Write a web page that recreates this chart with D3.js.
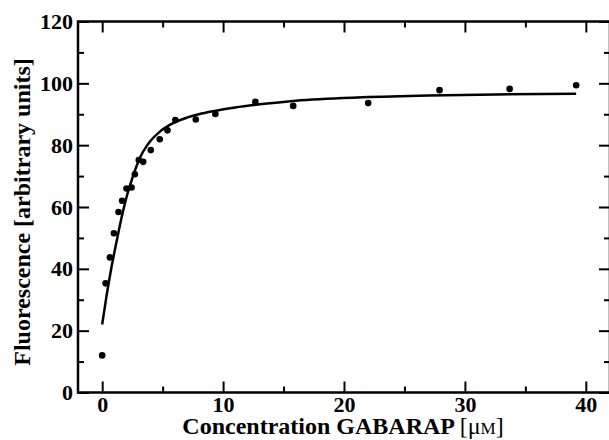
<!DOCTYPE html>
<html>
<head>
<meta charset="utf-8">
<script src="https://cdn.jsdelivr.net/npm/d3@7"></script>
<style>
  body { margin: 0; background: #fff; }
  svg { display: block; }
  text { font-family: "Liberation Serif", "DejaVu Serif", serif; font-weight: bold; fill: #000; }
</style>
</head>
<body>
<div id="chart"></div>
<script>
// measured points: GABARAP concentration (uM) vs fluorescence
const concentration = [0, 0.28, 0.64, 0.97, 1.35, 1.65, 2.01, 2.43, 2.7, 3.03, 3.39, 4.02, 4.76,
  5.4, 6.05, 7.74, 9.36, 12.67, 15.8, 22.0, 27.9, 33.7, 39.2];
const fluorescence = [12.0, 35.3, 43.7, 51.5, 58.4, 62.0, 66.0, 66.3, 70.6, 75.2, 74.6, 78.4, 81.9,
  84.8, 88.1, 88.3, 90.1, 94.0, 92.7, 93.6, 97.8, 98.2, 99.4];

// fitted curve
const fitX = [0, 0.35, 0.77, 1.2, 1.6, 2.0, 2.55, 3.1, 3.8, 4.75, 5.9, 7.0, 8.0, 9.2, 11, 13, 16, 21.5, 27, 32.6, 39.2];
const fitY = [22, 31, 40.5, 49, 56.5, 63, 70, 75.8, 80.4, 84.3, 87.2, 88.9, 90, 91, 92.2, 93.2, 94.4, 95.5, 96.1, 96.4, 96.6];

const xMajor = [0, 10, 20, 30, 40];
const xMinor = [5, 15, 25, 35];
const yMajor = [0, 20, 40, 60, 80, 100, 120];
const yMinor = [10, 30, 50, 70, 90, 110];

const W = 609, H = 440;
const margin = { top: 21.5, right: -1, bottom: 47.5, left: 78 };
const width = W - margin.left - margin.right;
const height = H - margin.top - margin.bottom;

const svg = d3.select("#chart").append("svg")
  .attr("width", W)
  .attr("height", H);

const g = svg.append("g")
  .attr("transform", `translate(${margin.left},${margin.top})`);

const x = d3.scaleLinear().domain([-2, 42]).range([0, width]);
const y = d3.scaleLinear().domain([0, 120]).range([height, 0]);

function styleAxis(sel) {
  sel.select(".domain").remove();
  sel.selectAll(".tick line").attr("stroke", "#000").attr("stroke-width", 2);
  sel.selectAll("text").style("font-size", "22px").attr("fill", "#000");
}

// bottom axis
g.append("g")
  .attr("transform", `translate(0,${height})`)
  .call(d3.axisBottom(x).tickValues(xMajor).tickSizeInner(-11).tickSizeOuter(0).tickPadding(4))
  .call(styleAxis);
g.append("g")
  .attr("transform", `translate(0,${height})`)
  .call(d3.axisBottom(x).tickValues(xMinor).tickSizeInner(-6).tickSizeOuter(0).tickFormat(""))
  .call(styleAxis);

// top axis
g.append("g")
  .call(d3.axisTop(x).tickValues(xMajor).tickSizeInner(-11).tickSizeOuter(0).tickFormat(""))
  .call(styleAxis);
g.append("g")
  .call(d3.axisTop(x).tickValues(xMinor).tickSizeInner(-6).tickSizeOuter(0).tickFormat(""))
  .call(styleAxis);

// left axis
g.append("g")
  .call(d3.axisLeft(y).tickValues(yMajor).tickSizeInner(-11).tickSizeOuter(0).tickPadding(5))
  .call(styleAxis);
g.append("g")
  .call(d3.axisLeft(y).tickValues(yMinor).tickSizeInner(-6).tickSizeOuter(0).tickFormat(""))
  .call(styleAxis);

// right axis
g.append("g")
  .attr("transform", `translate(${width},0)`)
  .call(d3.axisRight(y).tickValues(yMajor).tickSizeInner(-11).tickSizeOuter(0).tickFormat(""))
  .call(styleAxis);
g.append("g")
  .attr("transform", `translate(${width},0)`)
  .call(d3.axisRight(y).tickValues(yMinor).tickSizeInner(-6).tickSizeOuter(0).tickFormat(""))
  .call(styleAxis);

// frame
g.append("rect")
  .attr("width", width)
  .attr("height", height)
  .attr("fill", "none")
  .attr("stroke", "#000")
  .attr("stroke-width", 2.5);

// fitted curve
const line = d3.line()
  .x(d => x(d[0]))
  .y(d => y(d[1]))
  .curve(d3.curveMonotoneX);

g.append("path")
  .datum(d3.zip(fitX, fitY))
  .attr("fill", "none")
  .attr("stroke", "#000")
  .attr("stroke-width", 2.5)
  .attr("d", line);

// data points
g.selectAll("circle.pt")
  .data(d3.zip(concentration, fluorescence))
  .join("circle")
  .attr("class", "pt")
  .attr("cx", d => x(d[0]))
  .attr("cy", d => y(d[1]))
  .attr("r", 3.3)
  .attr("fill", "#000");

// axis titles
const xt = svg.append("text")
  .attr("x", 343)
  .attr("y", 434)
  .attr("text-anchor", "middle")
  .style("font-size", "24px");
xt.append("tspan").text("Concentration GABARAP ");
xt.append("tspan").style("font-weight", "normal").text("[μ");
xt.append("tspan").style("font-weight", "normal").style("font-size", "17px").text("M");
xt.append("tspan").style("font-weight", "normal").text("]");

svg.append("text")
  .attr("transform", "translate(30,212) rotate(-90)")
  .attr("text-anchor", "middle")
  .style("font-size", "24px")
  .text("Fluorescence [arbitrary units]");
</script>
</body>
</html>
